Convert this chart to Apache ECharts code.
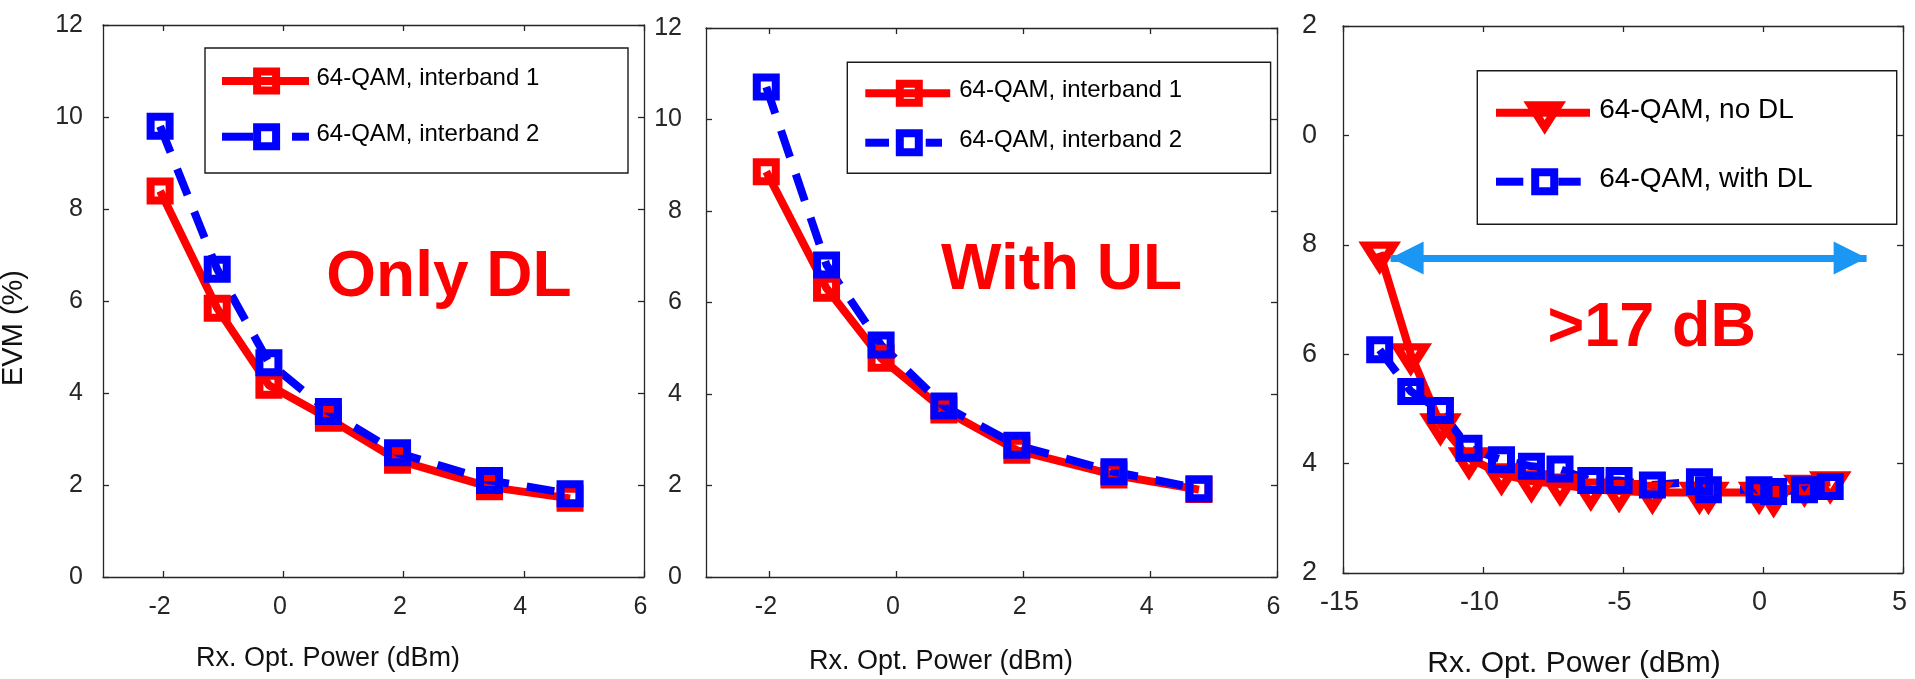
<!DOCTYPE html>
<html>
<head>
<meta charset="utf-8">
<title>EVM vs received optical power</title>
<script src="https://cdn.jsdelivr.net/npm/echarts@6/dist/echarts.min.js"></script>
<style>
  html, body { margin: 0; padding: 0; background: #fff; }
  #stage { position: relative; width: 1915px; height: 679px; overflow: hidden; background: #fff; }
  #bands { position: absolute; left: 0; top: 0; width: 1915px; height: 679px; }
  #sweep { position: absolute; left: 1303px; top: 0; width: 612px; height: 679px; background: #fff; }
</style>
</head>
<body>
<div id="stage">
  <div id="bands"></div>
  <div id="sweep"></div>
</div>
<script>
// ---- measured data -------------------------------------------------------
// received optical power (dBm) of the two interband measurements
const rxPowerBand = [-2.05, -1.1, -0.24, 0.75, 1.9, 3.43, 4.77];
// EVM (%) with downlink only
const onlyDlBand1 = [8.39, 5.84, 4.17, 3.45, 2.54, 1.96, 1.71];
const onlyDlBand2 = [9.80, 6.69, 4.66, 3.60, 2.70, 2.10, 1.81];
// EVM (%) with uplink present
const withUlBand1 = [8.86, 6.31, 4.78, 3.65, 2.77, 2.23, 1.91];
const withUlBand2 = [10.71, 6.82, 5.07, 3.74, 2.88, 2.30, 1.93];
// received optical power (dBm) of the uplink sweep
const rxPowerSweep = [-13.69, -12.58, -11.52, -10.50, -9.34, -8.27, -7.25, -6.15,
                      -5.14, -3.95, -2.27, -1.95, -0.14, 0.38, 1.48, 2.40];
const evmNoDl   = [7.86, 6.00, 4.72, 4.10, 3.81, 3.68, 3.62, 3.53,
                   3.50, 3.47, 3.47, 3.47, 3.47, 3.41, 3.60, 3.66];
const evmWithDl = [6.08, 5.32, 4.97, 4.28, 4.07, 3.95, 3.90, 3.69,
                   3.69, 3.61, 3.67, 3.52, 3.52, 3.49, 3.52, 3.58];
// dynamic-range arrow: start power, width in dB, EVM level
const rangeStart = -13.3;
const rangeDb = 17;
const rangeLevel = 7.76;
// tick values
const bandXTicks = [-2, 0, 2, 4, 6];
const bandYTicks = [0, 2, 4, 6, 8, 10, 12];
const sweepXTicks = [-15, -10, -5, 0, 5];
const sweepYTicks = [2, 4, 6, 8, 10, 12];

// ---- styling ---------------------------------------------------------------
const FONT = '"Liberation Sans", Arial, Helvetica, sans-serif';
const RED = '#ff0000';
const BLUE = '#0000ff';
const AXIS = '#262626';
const ARROW = '#1a97f5';
const DASH = [28, 18];
const SQUARE = { symbol: 'rect', size: 19, border: 8, offset: [0, 0] };
const TRIANGLE = { symbol: 'path://M0,0L28,0L14,22Z', size: [28, 22], border: 8, offset: [0, 3.7] };

function pairs(xs, ys) { return xs.map((x, i) => [x, ys[i]]); }

// four-sided axis box for one grid: labelled bottom/left, tick-only top/right
function frame(g, s) {
  const line = { show: true, onZero: false, lineStyle: { color: AXIS, width: 1.3 } };
  const tick = vals => ({ show: true, inside: true, length: 6, customValues: vals,
                          lineStyle: { color: AXIS, width: 1.3 } });
  const bottom = {
    type: 'value', gridIndex: g, position: 'bottom', min: s.x[0], max: s.x[1],
    axisLine: line, axisTick: tick(s.xTicks), splitLine: { show: false },
    axisLabel: { customValues: s.xTicks, color: AXIS, fontSize: s.font, fontFamily: FONT, margin: s.xMargin,
                 padding: [0, 7, 0, 0] },
    name: 'Rx. Opt. Power (dBm)', nameLocation: 'middle', nameGap: s.xNameGap,
    nameTextStyle: { fontSize: s.nameFont, fontFamily: FONT, color: '#111', verticalAlign: 'middle',
                     padding: [0, s.xNameShift * 2, 0, 0] }
  };
  const top = {
    type: 'value', gridIndex: g, position: 'top', min: s.x[0], max: s.x[1],
    axisLine: line, axisTick: tick(s.xTicks), axisLabel: { show: false }, splitLine: { show: false }
  };
  const left = {
    type: 'value', gridIndex: g, position: 'left', min: s.y[0], max: s.y[1],
    axisLine: line, axisTick: tick(s.yTicks), splitLine: { show: false },
    axisLabel: { customValues: s.yTicks, color: AXIS, fontSize: s.font, fontFamily: FONT, margin: s.yMargin,
                 verticalAlign: 'middle', padding: [0, 0, 14, 0] }
  };
  if (s.yName) {
    left.name = s.yName;
    left.nameLocation = 'middle';
    left.nameRotate = 90;
    left.nameGap = s.yNameGap;
    left.nameTextStyle = { fontSize: s.yNameFont, fontFamily: FONT, color: '#111', verticalAlign: 'middle',
                           padding: [0, s.yNameShift * 2, 0, 0] };
  }
  const right = {
    type: 'value', gridIndex: g, position: 'right', min: s.y[0], max: s.y[1],
    axisLine: line, axisTick: tick(s.yTicks), axisLabel: { show: false }, splitLine: { show: false }
  };
  return { x: [bottom, top], y: [left, right] };
}

function curve(name, xs, ys, color, dashed, mark, axisIndex) {
  return {
    type: 'line', name: name, xAxisIndex: axisIndex, yAxisIndex: axisIndex,
    data: pairs(xs, ys),
    symbol: mark.symbol, symbolSize: mark.size, symbolOffset: mark.offset, showSymbol: true,
    lineStyle: { color: color, width: 8, type: dashed ? DASH : 'solid' },
    itemStyle: { color: 'rgba(0,0,0,0)', borderColor: color, borderWidth: mark.border, borderJoin: 'miter' },
    emphasis: { disabled: true }, silent: true
  };
}

// boxed key drawn with graphic elements: sample line, marker and text per row
function keyBox(k) {
  const els = [{ type: 'rect', shape: { x: k.box[0], y: k.box[1], width: k.box[2], height: k.box[3] },
                 style: { fill: '#fff', stroke: '#1a1a1a', lineWidth: 1.4 }, z: 10 }];
  k.rows.forEach(r => {
    r.segs.forEach(sg => els.push({ type: 'line', shape: { x1: sg[0], y1: r.y, x2: sg[1], y2: r.y },
                                    style: { stroke: r.color, lineWidth: 8 }, z: 11 }));
    if (r.marker === 'square') {
      els.push({ type: 'rect', shape: { x: r.mx - 9.5, y: r.y - 9.5, width: 19, height: 19 },
                 style: { fill: 'none', stroke: r.color, lineWidth: 8 }, z: 12 });
    } else {
      els.push({ type: 'polygon',
                 shape: { points: [[r.mx - 14, r.y - 22 / 3], [r.mx + 14, r.y - 22 / 3], [r.mx, r.y + 44 / 3]] },
                 style: { fill: 'none', stroke: r.color, lineWidth: 8, lineJoin: 'miter' }, z: 12 });
    }
    els.push({ type: 'text', x: k.textX, y: r.y - 2.5, z: 12,
               style: { text: r.text, fontSize: k.font, fontFamily: FONT, fill: '#000',
                        align: 'left', textAlign: 'left', verticalAlign: 'middle', textVerticalAlign: 'middle' } });
  });
  return els;
}

function bigLabel(text, x, y, size) {
  return { type: 'text', x: x, y: y, z: 12,
           style: { text: text, fontSize: size, fontWeight: 'bold', fontFamily: FONT, fill: RED,
                    align: 'center', textAlign: 'center', verticalAlign: 'middle', textVerticalAlign: 'middle' } };
}

// ---- left two panels: interband 1 / 2 --------------------------------------
const f1 = frame(0, { x: [-3, 6], y: [0, 12], xTicks: bandXTicks, yTicks: bandYTicks, font: 25,
                      xMargin: 18, yMargin: 20, xNameGap: 82, nameFont: 27, xNameShift: 45.5,
                      yName: 'EVM (%)', yNameGap: 89.5, yNameFont: 29, yNameShift: 27 });
const f2 = frame(1, { x: [-3, 6], y: [0, 12], xTicks: bandXTicks, yTicks: bandYTicks, font: 25,
                      xMargin: 18, yMargin: 24, xNameGap: 85, nameFont: 27, xNameShift: 50.5 });

const bandChart = echarts.init(document.getElementById('bands'), null, { renderer: 'canvas' });
bandChart.setOption({
  animation: false,
  backgroundColor: 'transparent',
  grid: [
    { left: 103, top: 25, width: 541, height: 552, outerBoundsMode: 'none', containLabel: false },
    { left: 706, top: 28, width: 571, height: 549, outerBoundsMode: 'none', containLabel: false }
  ],
  xAxis: [f1.x[0], f1.x[1], f2.x[0], f2.x[1]],
  yAxis: [f1.y[0], f1.y[1], f2.y[0], f2.y[1]],
  series: [
    curve('64-QAM, interband 1', rxPowerBand, onlyDlBand1, RED, false, SQUARE, 0),
    curve('64-QAM, interband 2', rxPowerBand, onlyDlBand2, BLUE, true, SQUARE, 0),
    curve('64-QAM, interband 1', rxPowerBand, withUlBand1, RED, false, SQUARE, 2),
    curve('64-QAM, interband 2', rxPowerBand, withUlBand2, BLUE, true, SQUARE, 2)
  ],
  graphic: { elements: [].concat(
    keyBox({ box: [205, 48, 423, 125], textX: 316.5, font: 24, rows: [
      { y: 81, text: '64-QAM, interband 1', color: RED, marker: 'square', mx: 266.6, segs: [[222, 309]] },
      { y: 136.7, text: '64-QAM, interband 2', color: BLUE, marker: 'square', mx: 266.6, segs: [[222, 253], [292, 309]] }
    ] }),
    keyBox({ box: [847.3, 62.3, 423.3, 111], textX: 959.2, font: 24, rows: [
      { y: 93.3, text: '64-QAM, interband 1', color: RED, marker: 'square', mx: 909.3, segs: [[865.3, 950.2]] },
      { y: 142.7, text: '64-QAM, interband 2', color: BLUE, marker: 'square', mx: 909.3, segs: [[865.3, 889], [925.7, 942]] }
    ] }),
    [bigLabel('Only DL', 449, 278, 64), bigLabel('With UL', 1061.6, 271.7, 64)]
  ) }
});

// ---- right panel: uplink sweep (its container starts at x = 1303) ----------
const f3 = frame(0, { x: [-15, 5], y: [2, 12], xTicks: sweepXTicks, yTicks: sweepYTicks, font: 27,
                      xMargin: 16, yMargin: 26, xNameGap: 91, nameFont: 30, xNameShift: 49 });

const withDlSeries = curve('64-QAM, with DL', rxPowerSweep, evmWithDl, BLUE, true, SQUARE, 0);
withDlSeries.markLine = {
  silent: true, animation: false,
  symbol: ['triangle', 'triangle'], symbolSize: 33,
  symbolOffset: [[0, '50%'], [0, '50%']],
  label: { show: false },
  emphasis: { disabled: true },
  lineStyle: { color: ARROW, width: 7, type: 'solid' },
  data: [[{ coord: [rangeStart, rangeLevel] }, { coord: [rangeStart + rangeDb, rangeLevel] }]]
};

const sweepChart = echarts.init(document.getElementById('sweep'), null, { renderer: 'canvas' });
sweepChart.setOption({
  animation: false,
  backgroundColor: '#fff',
  grid: [{ left: 40, top: 26, width: 560, height: 547, outerBoundsMode: 'none', containLabel: false }],
  xAxis: f3.x,
  yAxis: f3.y,
  series: [
    curve('64-QAM, no DL', rxPowerSweep, evmNoDl, RED, false, TRIANGLE, 0),
    withDlSeries
  ],
  graphic: { elements: [].concat(
    keyBox({ box: [174.3, 70.7, 419.4, 153.6], textX: 296.3, font: 28, rows: [
      { y: 112.7, text: '64-QAM, no DL', color: RED, marker: 'triangle', mx: 241.7, segs: [[193, 287]] },
      { y: 181.7, text: '64-QAM, with DL', color: BLUE, marker: 'square', mx: 241.7, segs: [[193, 220.3], [255.3, 277.7]] }
    ] }),
    [bigLabel('>17 dB', 348.7, 329, 63)]
  ) }
});
</script>
</body>
</html>
